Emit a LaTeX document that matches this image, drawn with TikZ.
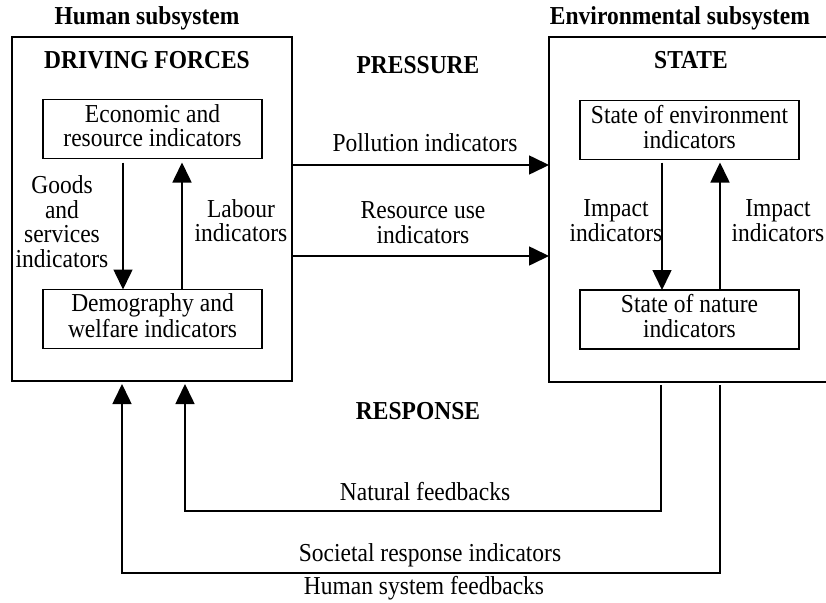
\documentclass[tikz,border=0pt]{standalone}
\usepackage{fontspec}
\setmainfont{Liberation Serif}
\usetikzlibrary{arrows.meta}
% centred, slightly tall lettering for every label
\newcommand\vtext[1]{\scalebox{1}[1.1]{\begin{tabular}{@{}c@{}}#1\end{tabular}}}

\begin{document}
\begin{tikzpicture}[x=1pt,y=-1pt,
  every node/.style={inner sep=0pt, outer sep=0pt, font=\fontsize{23.5}{21}\selectfont},
  head/.style={font=\fontsize{23.5}{21}\selectfont\bfseries},
  bigbox/.style={draw, line width=2pt, rectangle},
  ibox/.style={draw, line width=1.8pt, rectangle, minimum width=219pt, minimum height=59pt},
  arr/.style={line width=1.6pt, -{Triangle[length=20pt,width=19pt]}},
  fb/.style={arr, shorten <=3pt, shorten >=3pt}]

\useasboundingbox (0,0) rectangle (826,602);
\clip (0,0) rectangle (826,602);

% subsystems
\node[bigbox, minimum width=280pt, minimum height=344pt] (human) at (152,209) {};
\node[bigbox, minimum width=291pt, minimum height=345pt] (env) at (694.5,209.5) {};

\node[head] (thuman) at (147,19) {\vtext{Human subsystem}};
\node[head] (tenv) at (680,19) {\vtext{Environmental subsystem}};
\node[head] (tdf) at (147,63) {\vtext{DRIVING FORCES}};
\node[head] (tpress) at (418,68) {\vtext{PRESSURE}};
\node[head] (tstate) at (691,63) {\vtext{STATE}};
\node[head] (tresp) at (418,414) {\vtext{RESPONSE}};

% indicator boxes
\node[ibox] (econ) at (152.5,129) {\vtext{Economic and\\resource indicators}};
\node[ibox] (demog) at (152.5,319) {\vtext{Demography and\\welfare indicators}};
\node[ibox] (stenv) at (689.5,130) {\vtext{State of environment\\indicators}};
\node[ibox] (nature) at (689.5,319.5) {\vtext{State of nature\\indicators}};

% flows inside the human subsystem
\coordinate (gx) at (123,0);
\coordinate (lx) at (182,0);
\draw[arr, shorten <=4pt] (econ.south -| gx) -- (demog.north -| gx);
\draw[arr, shorten >=4pt] (demog.north -| lx) -- (econ.south -| lx);
\node (lgoods) at (62,225) {\vtext{Goods\\and\\services\\indicators}};
\node (llabour) at (241,224) {\vtext{Labour\\indicators}};

% flows inside the environmental subsystem
\coordinate (ix) at (662,0);
\coordinate (jx) at (720,0);
\draw[arr, shorten <=3pt] (stenv.south -| ix) -- (nature.north -| ix);
\draw[arr, shorten >=3pt] (nature.north -| jx) -- (stenv.south -| jx);
\node (limp1) at (616,224) {\vtext{Impact\\indicators}};
\node (limp2) at (778,224) {\vtext{Impact\\indicators}};

% pressures
\coordinate (p1) at (0,165);
\coordinate (p2) at (0,256);
\draw[arr] (human.east |- p1) -- (env.west |- p1);
\draw[arr] (human.east |- p2) -- (env.west |- p2);
\node (lpoll) at (425,146) {\vtext{Pollution indicators}};
\node (lres) at (423,226) {\vtext{Resource use\\indicators}};

% responses
\coordinate (nfx) at (661,0);
\coordinate (nfy) at (0,511);
\coordinate (nfl) at (185,0);
\coordinate (hfy) at (0,573);
\coordinate (hfl) at (122,0);
\draw[fb] (env.south -| nfx) |- (nfl |- nfy) -- (human.south -| nfl);
\draw[fb] (env.south -| jx) |- (hfl |- hfy) -- (human.south -| hfl);
\node (lnat) at (425,495) {\vtext{Natural feedbacks}};
\node (lsoc) at (430,556) {\vtext{Societal response indicators}};
\node (lhum) at (424,589) {\vtext{Human system feedbacks}};
\end{tikzpicture}
\end{document}
